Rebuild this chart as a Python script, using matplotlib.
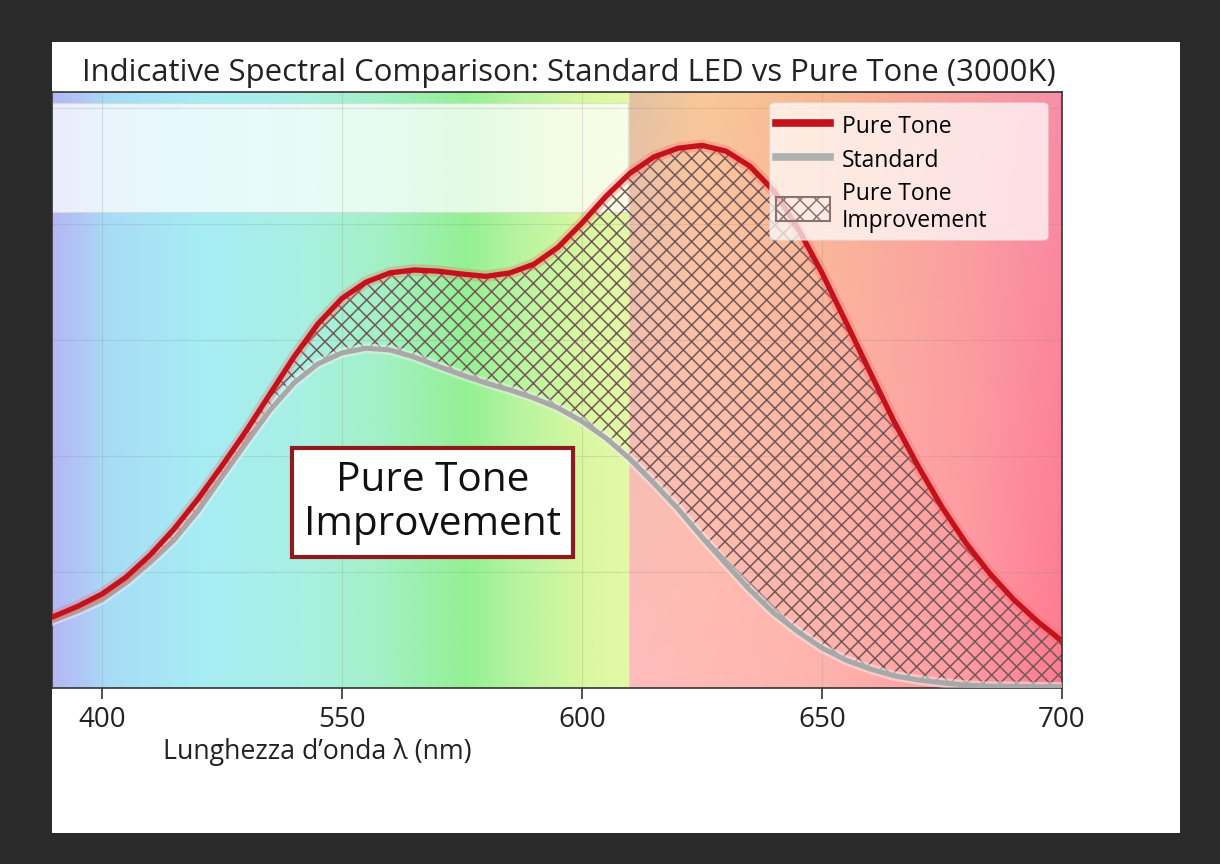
import numpy as np
import matplotlib
matplotlib.use("Agg")
import matplotlib.pyplot as plt
import matplotlib.patches as mpatches
from matplotlib.lines import Line2D

plt.rcParams["font.family"] = ["Open Sans", "DejaVu Sans"]
plt.rcParams["hatch.linewidth"] = 1.1

# wavelength (nm) and relative intensity
wavelength = [489, 495, 500, 505, 510, 515, 520, 525, 530, 535, 540, 545, 550,
              555, 560, 565, 570, 575, 580, 585, 590, 595, 600, 605, 610, 615,
              620, 625, 630, 635, 640, 645, 650, 655, 660, 665, 670, 675, 680,
              685, 690, 695, 700]
pure_tone = [0.120, 0.141, 0.162, 0.191, 0.229, 0.274, 0.326, 0.383, 0.443,
             0.507, 0.571, 0.628, 0.672, 0.700, 0.716, 0.721, 0.719, 0.714,
             0.710, 0.716, 0.731, 0.760, 0.802, 0.848, 0.888, 0.916, 0.931,
             0.936, 0.926, 0.900, 0.857, 0.793, 0.716, 0.631, 0.545, 0.460,
             0.383, 0.312, 0.250, 0.197, 0.152, 0.114, 0.081]
standard = [0.114, 0.133, 0.152, 0.181, 0.216, 0.255, 0.305, 0.364, 0.422,
            0.479, 0.526, 0.559, 0.578, 0.586, 0.583, 0.571, 0.555, 0.540,
            0.526, 0.514, 0.500, 0.483, 0.460, 0.431, 0.395, 0.353, 0.309,
            0.260, 0.214, 0.169, 0.129, 0.097, 0.069, 0.048, 0.033, 0.021,
            0.014, 0.009, 0.005, 0.003, 0.003, 0.002, 0.002]

tick_pos = [500, 550, 600, 650, 700]
tick_labels = ["400", "550", "600", "650", "700"]

title = "Indicative Spectral Comparison: Standard LED vs Pure Tone (3000K)"
xlabel = "Lunghezza d\u2019onda \u03bb (nm)"

# background spectrum colour stops
left_stops = [489.6, 496, 501, 520, 541, 557, 576, 587, 600, 610]
left_cols = ["#b4b8f4", "#b0c8f6", "#a8dcf6", "#a6ecf4", "#a8f0e4",
             "#a4f0c8", "#94f094", "#b8f4a0", "#d8f8a0", "#e4f8a8"]
right_stops = [610, 625, 650, 680, 700]
right_top = ["#e2c2a2", "#f8c898", "#f8b890", "#f8a0a0", "#f890a8"]
right_bot = ["#ffbcbc", "#ffbab6", "#ffb4ae", "#ff9aa2", "#ff7a90"]

XMIN, XMAX, YMAX = 489.6, 700, 1.028


def hex_rgb(c):
    c = c.lstrip("#")
    return np.array([int(c[i:i + 2], 16) / 255 for i in (0, 2, 4)])


def ramp(xs, stops, cols):
    rgb = np.array([hex_rgb(c) for c in cols])
    return np.stack([np.interp(xs, stops, rgb[:, k]) for k in range(3)], axis=-1)


def spectrum_image(nx=600, ny=200):
    xs = np.linspace(XMIN, XMAX, nx)
    img = np.zeros((ny, nx, 3))
    left = xs < 610
    img[:, left] = ramp(xs[left], left_stops, left_cols)[None, :, :]
    top = ramp(xs[~left], right_stops, right_top)
    bot = ramp(xs[~left], right_stops, right_bot)
    t = np.linspace(0, 1, ny)[:, None, None] ** 0.8
    img[:, ~left] = top[None] * (1 - t) + bot[None] * t
    return img


def px_to_axes(px, py):
    return (px - 52) / 1010, (688 - py) / 596


fig = plt.figure(figsize=(12.2, 8.64), dpi=100, facecolor="#2a2a2a")
fig.patches.append(mpatches.Rectangle((52 / 1220, 1 - 833 / 864), 1128 / 1220, 791 / 864,
                                      transform=fig.transFigure, fc="white", ec="none", zorder=-5))
ax = fig.add_axes([52 / 1220, 1 - 688 / 864, 1010 / 1220, 596 / 864])

ax.imshow(spectrum_image(), extent=[XMIN, XMAX, 0, YMAX], aspect="auto",
          origin="upper", zorder=0, interpolation="bilinear")
ax.add_patch(mpatches.Rectangle((XMIN, 0.821), 610 - XMIN - 0.4, 0.188, fc="white",
                                alpha=0.74, ec="#d8d8d8", lw=0.8, zorder=1))

ax.fill_between(wavelength, standard, pure_tone, facecolor="none", edgecolor="#725858",
                hatch="xx", linewidth=0, zorder=2)
line_kw = dict(solid_capstyle="butt", solid_joinstyle="round")
ax.plot(wavelength, standard, color="#f0f0f0", lw=7, alpha=0.5, zorder=3, **line_kw)
ax.plot(wavelength, standard, color="#a8a8a8", lw=3.6, zorder=3, **line_kw)
ax.plot(wavelength, pure_tone, color="#ff6060", lw=8.5, alpha=0.3, zorder=4, **line_kw)
ax.plot(wavelength, pure_tone, color="#c4121c", lw=3.8, zorder=4, **line_kw)

ax.text(568.8, 0.32, "Pure Tone\nImprovement", ha="center", va="center", fontsize=29.2,
        linespacing=1.12, zorder=6, color="#111111",
        bbox=dict(boxstyle="square,pad=0.3", fc="white", ec="#8e1a1e", lw=3))

# legend frame drawn separately so it can be as wide as in the reference
x0, y0 = px_to_axes(770, 240)
x1, y1 = px_to_axes(1048, 103)
ax.add_patch(mpatches.FancyBboxPatch((x0, y0), x1 - x0, y1 - y0, transform=ax.transAxes,
                                     boxstyle="round,pad=0,rounding_size=0.006",
                                     fc="white", alpha=0.72, ec="#e4e4e4", lw=1, zorder=6))
handles = [
    Line2D([], [], color="#c4121c", lw=5.5),
    Line2D([], [], color="#b0b0b0", lw=5.5),
    mpatches.Patch(facecolor="none", edgecolor="#8a7272", hatch="xx", lw=1.5),
]
leg = ax.legend(handles, ["Pure Tone", "Standard", "Pure Tone\nImprovement"],
                loc="upper left", bbox_to_anchor=px_to_axes(758, 95), fontsize=16.5,
                handlelength=2.35, handleheight=1.2, labelspacing=0.38,
                borderpad=0.3, handletextpad=0.5, frameon=False)
leg.set_zorder(7)

ax.set_xlim(XMIN, XMAX)
ax.set_ylim(0, YMAX)
ax.set_xticks(tick_pos, tick_labels)
ax.set_yticks([0.2, 0.4, 0.6, 0.8, 1.0])
ax.tick_params(axis="y", length=0, labelleft=False)
ax.tick_params(axis="x", length=8, width=1.2, color="#333333", labelsize=20, pad=5,
               labelcolor="#222222")
ax.grid(True, color="#888888", alpha=0.22, lw=0.8, zorder=1)
for s in ax.spines.values():
    s.set_color("#333333")
    s.set_linewidth(1.2)

fig.text(569 / 1220, 1 - 73 / 864, title, ha="center", va="center", fontsize=22.4, color="#222222")
fig.text(163 / 1220, 1 - 752 / 864, xlabel, ha="left", va="center", fontsize=19.3, color="#222222")

fig.savefig("out.png", dpi=100, facecolor=fig.get_facecolor())
